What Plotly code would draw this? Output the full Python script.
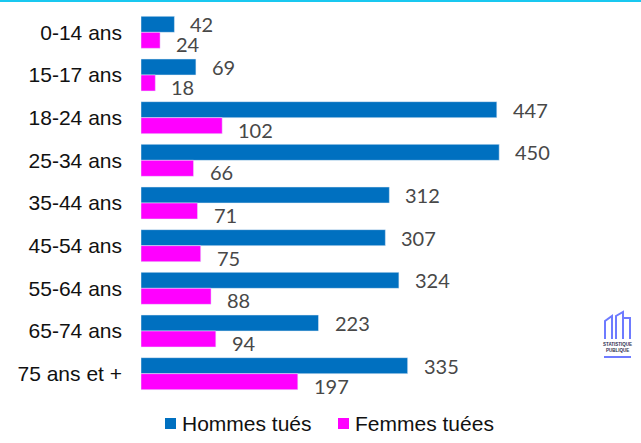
import plotly.graph_objects as go

categories = ["0-14 ans", "15-17 ans", "18-24 ans", "25-34 ans", "35-44 ans",
              "45-54 ans", "55-64 ans", "65-74 ans", "75 ans et +"]
hommes = [42, 69, 447, 450, 312, 307, 324, 223, 335]
femmes = [24, 18, 102, 66, 71, 75, 88, 94, 197]
series_names = ["Hommes tués", "Femmes tuées"]

BLUE = "#0070C0"
PINK = "#FF00FF"
LOGO = "#6E7BFF"

W, H = 641, 443
ML, MR, MT, MB = 141, 102, 11, 48
PW, PH = W - ML - MR, H - MT - MB
def px(x): return (x - ML) / PW
def py(y): return 1 - (y - MT) / PH

fig = go.Figure()
fig.add_trace(go.Bar(y=categories, x=hommes, name=series_names[0], orientation="h",
                     marker_color=BLUE))
fig.add_trace(go.Bar(y=categories, x=femmes, name=series_names[1], orientation="h",
                     marker_color=PINK))

annotations = []
for cat, h, f in zip(categories, hommes, femmes):
    annotations.append(dict(x=h, y=cat, text=str(h), xref="x", yref="y", showarrow=False,
                            xanchor="left", xshift=14, yshift=8,
                            font=dict(family="Lato", size=20, color="#484848")))
    annotations.append(dict(x=f, y=cat, text=str(f), xref="x", yref="y", showarrow=False,
                            xanchor="left", xshift=14, yshift=-12,
                            font=dict(family="Lato", size=20, color="#484848")))

annotations.append(dict(x=px(617.5), y=py(347.5), xref="paper", yref="paper", showarrow=False,
                        text="<b>STATISTIQUE<br>PUBLIQUE</b>", xanchor="center", yanchor="middle",
                        font=dict(family="Liberation Sans", size=4.5, color="#303050")))

annotations.append(dict(x=px(180), y=py(423), xref="paper", yref="paper", showarrow=False,
                        text=series_names[0], xanchor="left", yanchor="middle",
                        font=dict(family="Liberation Sans", size=21, color="#111111")))
annotations.append(dict(x=px(353), y=py(423), xref="paper", yref="paper", showarrow=False,
                        text=series_names[1], xanchor="left", yanchor="middle",
                        font=dict(family="Liberation Sans", size=21, color="#111111")))

shapes = [
    dict(type="rect", xref="paper", yref="paper", x0=px(0), x1=px(641), y0=py(2), y1=py(0),
         fillcolor="#19C8F0", line_width=0),
    dict(type="rect", xref="paper", yref="paper", x0=px(165), x1=px(176), y0=py(429), y1=py(418),
         fillcolor=BLUE, line_width=0),
    dict(type="rect", xref="paper", yref="paper", x0=px(338), x1=px(349), y0=py(429), y1=py(418),
         fillcolor=PINK, line_width=0),
    dict(type="path", xref="paper", yref="paper",
         path=f"M {px(605)},{py(339)} L {px(605)},{py(321)} L {px(612)},{py(316)} L {px(612)},{py(339)} "
              f"M {px(616)},{py(339)} L {px(616)},{py(316)} L {px(623)},{py(312)} L {px(623)},{py(339)} "
              f"M {px(623)},{py(318)} L {px(630)},{py(318)} L {px(630)},{py(339)}",
         line=dict(color=LOGO, width=2)),
    dict(type="rect", xref="paper", yref="paper", x0=px(604), x1=px(631), y0=py(358), y1=py(356),
         fillcolor=LOGO, line_width=0),
]

fig.update_layout(
    width=W, height=H, autosize=False,
    margin=dict(l=ML, r=MR, t=MT, b=MB, autoexpand=False),
    paper_bgcolor="white", plot_bgcolor="white",
    barmode="group", bargap=0.25, bargroupgap=0,
    showlegend=False,
    xaxis=dict(range=[0, 500], visible=False, fixedrange=True),
    yaxis=dict(range=[8.5, -0.5], showline=False, ticks="", showgrid=False,
               ticklabelstandoff=18, automargin=False,
               tickfont=dict(family="Liberation Sans", size=21, color="#111111")),
    annotations=annotations, shapes=shapes,
)
fig.write_html("out.html", config={"displayModeBar": False},
               post_script="document.body.style.margin='0';document.body.style.overflow='hidden';")
